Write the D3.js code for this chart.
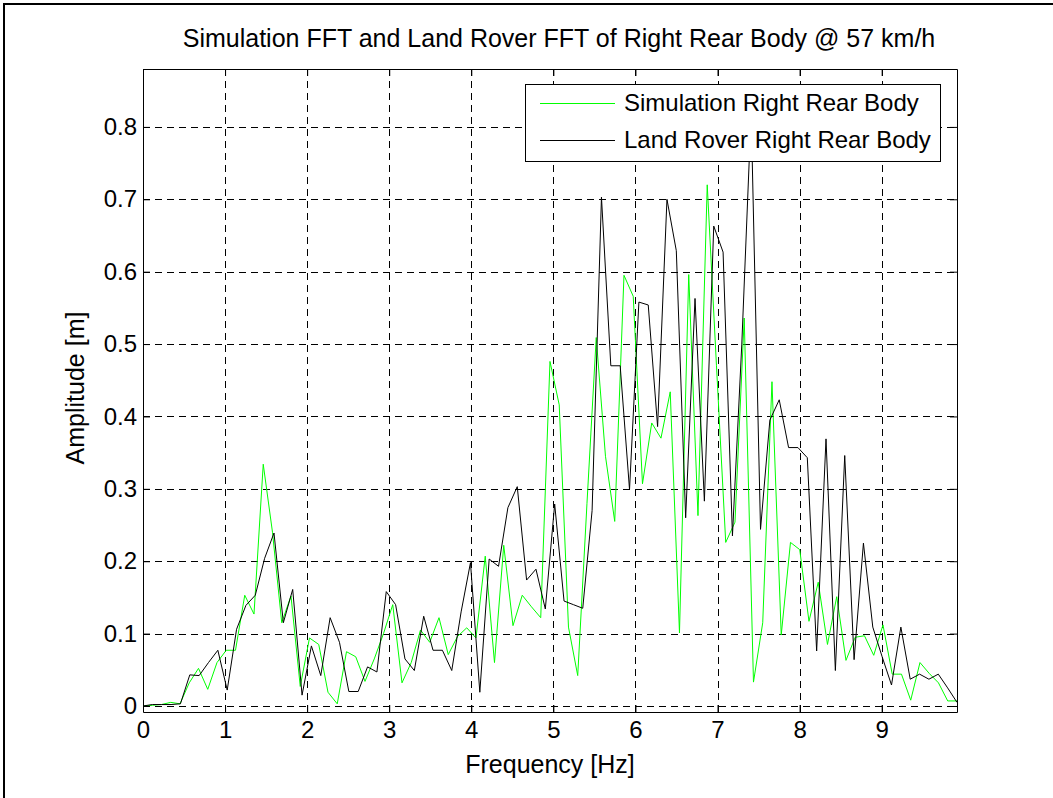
<!DOCTYPE html>
<html>
<head>
<meta charset="utf-8">
<script src="https://cdn.jsdelivr.net/npm/d3@7"></script>
<style>
    body { margin: 0; background: #fff; }
    text { font-family: "Liberation Sans", Arial, Helvetica, sans-serif; }
</style>
</head>
<body>
<div id="chart"></div>
<script>
// amplitude [m], one value per FFT bin
var simAmp = [0.000, 0.001, 0.002, 0.005, 0.003, 0.032, 0.052, 0.023, 0.060, 0.077,
    0.077, 0.153, 0.127, 0.334, 0.240, 0.115, 0.152, 0.027, 0.094, 0.085,
    0.019, 0.003, 0.075, 0.068, 0.034, 0.065, 0.100, 0.140, 0.032, 0.060,
    0.105, 0.088, 0.122, 0.071, 0.096, 0.108, 0.094, 0.207, 0.060, 0.222,
    0.111, 0.153, 0.137, 0.122, 0.476, 0.416, 0.109, 0.042, 0.280, 0.509,
    0.345, 0.255, 0.595, 0.566, 0.307, 0.391, 0.370, 0.434, 0.101, 0.596,
    0.263, 0.720, 0.470, 0.226, 0.254, 0.536, 0.033, 0.115, 0.448, 0.098,
    0.226, 0.216, 0.117, 0.171, 0.085, 0.151, 0.063, 0.095, 0.097, 0.070,
    0.112, 0.044, 0.044, 0.008, 0.060, 0.045, 0.032, 0.007, 0.007];
var roverAmp = [0.000, 0.002, 0.002, 0.002, 0.003, 0.043, 0.042, 0.060, 0.077, 0.022,
    0.106, 0.139, 0.153, 0.204, 0.239, 0.115, 0.161, 0.015, 0.083, 0.042,
    0.122, 0.088, 0.020, 0.020, 0.054, 0.047, 0.158, 0.140, 0.065, 0.049,
    0.124, 0.077, 0.077, 0.049, 0.130, 0.198, 0.019, 0.203, 0.193, 0.274,
    0.303, 0.174, 0.189, 0.134, 0.279, 0.145, 0.140, 0.135, 0.270, 0.703,
    0.470, 0.470, 0.299, 0.558, 0.554, 0.386, 0.700, 0.629, 0.260, 0.563,
    0.283, 0.663, 0.627, 0.235, 0.500, 0.820, 0.244, 0.395, 0.423, 0.357,
    0.357, 0.343, 0.076, 0.369, 0.049, 0.346, 0.064, 0.225, 0.109, 0.068,
    0.029, 0.109, 0.037, 0.044, 0.037, 0.044, 0.025, 0.005];
// frequency resolution of each record [Hz]
var dfSim = 0.1127;
var dfRover = 0.1140;

var xTicks = [0, 1, 2, 3, 4, 5, 6, 7, 8, 9];
var yTicks = [0, 0.1, 0.2, 0.3, 0.4, 0.5, 0.6, 0.7, 0.8];
var yTickLabels = ["0", "0.1", "0.2", "0.3", "0.4", "0.5", "0.6", "0.7", "0.8"];
var seriesNames = ["Simulation Right Rear Body", "Land Rover Right Rear Body"];
var seriesColors = ["#00ff00", "#000000"];

var W = 1053, H = 798;
var box = {left: 143, right: 957, top: 69, bottom: 712};

var svg = d3.select("#chart")
    .append("svg")
    .attr("width", W)
    .attr("height", H);

// figure frame (only top and left edges show)
svg.append("path")
    .attr("d", "M4,798V4H1053")
    .attr("fill", "none")
    .attr("stroke", "#000")
    .attr("stroke-width", 2);

var x = d3.scaleLinear()
    .domain([0, 87 * dfRover])
    .range([box.left, box.right]);

var y = d3.scaleLinear()
    .domain([-0.0083, 0.88])
    .range([box.bottom, box.top]);

// grid
var grid = svg.append("g")
    .attr("stroke", "#000")
    .attr("stroke-width", 1)
    .attr("stroke-dasharray", "7,5");
grid.selectAll(".vg")
    .data(xTicks)
    .enter().append("line")
    .attr("x1", function (d) { return Math.round(x(d)) + 0.5; })
    .attr("x2", function (d) { return Math.round(x(d)) + 0.5; })
    .attr("y1", box.bottom)
    .attr("y2", box.top);
grid.selectAll(".hg")
    .data(yTicks)
    .enter().append("line")
    .attr("y1", function (d) { return Math.round(y(d)) + 0.5; })
    .attr("y2", function (d) { return Math.round(y(d)) + 0.5; })
    .attr("x1", box.left)
    .attr("x2", box.right);

// data lines
var series = [
    simAmp.map(function (v, i) { return [i * dfSim, v]; }),
    roverAmp.map(function (v, i) { return [i * dfRover, v]; })
];

var line = d3.line()
    .x(function (d) { return x(d[0]); })
    .y(function (d) { return y(d[1]); });

svg.append("g")
    .selectAll("path")
    .data(series)
    .enter().append("path")
    .attr("d", line)
    .attr("fill", "none")
    .attr("stroke", function (d, i) { return seriesColors[i]; })
    .attr("stroke-width", 1);

// axes, ticks inward
var xAxis = svg.append("g")
    .attr("transform", "translate(0," + box.bottom + ")")
    .call(d3.axisBottom(x).tickValues(xTicks).tickSize(-7).tickSizeOuter(0).tickPadding(9));
xAxis.selectAll("text")
    .attr("font-size", 24)
    .attr("font-family", "Liberation Sans, Arial, sans-serif");

var yAxis = svg.append("g")
    .attr("transform", "translate(" + box.left + ",0)")
    .call(d3.axisLeft(y).tickValues(yTicks)
        .tickFormat(function (d, i) { return yTickLabels[i]; })
        .tickSize(-7).tickSizeOuter(0).tickPadding(6));
yAxis.selectAll("text")
    .attr("font-size", 24)
    .attr("font-family", "Liberation Sans, Arial, sans-serif");

svg.append("g")
    .attr("transform", "translate(0," + box.top + ")")
    .call(d3.axisTop(x).tickValues(xTicks).tickSize(-7).tickSizeOuter(0).tickFormat(""));
svg.append("g")
    .attr("transform", "translate(" + box.right + ",0)")
    .call(d3.axisRight(y).tickValues(yTicks).tickSize(-7).tickSizeOuter(0).tickFormat(""));

// labels
svg.append("text")
    .attr("x", 559)
    .attr("y", 47)
    .attr("text-anchor", "middle")
    .attr("font-size", 25)
    .text("Simulation FFT and Land Rover FFT of Right Rear Body @ 57 km/h");

svg.append("text")
    .attr("x", 550)
    .attr("y", 773)
    .attr("text-anchor", "middle")
    .attr("font-size", 25)
    .text("Frequency [Hz]");

svg.append("text")
    .attr("transform", "translate(75,388) rotate(-90)")
    .attr("dy", "0.35em")
    .attr("text-anchor", "middle")
    .attr("font-size", 25)
    .text("Amplitude [m]");

// legend
var legend = svg.append("g");
legend.append("rect")
    .attr("x", 525.5)
    .attr("y", 84.5)
    .attr("width", 415)
    .attr("height", 77)
    .attr("fill", "#fff")
    .attr("stroke", "#000");

var rows = legend.selectAll(".row")
    .data(seriesNames)
    .enter().append("g")
    .attr("transform", function (d, i) { return "translate(0," + (i === 0 ? 103.5 : 140.5) + ")"; });
rows.append("line")
    .attr("x1", 540)
    .attr("x2", 615)
    .attr("stroke", function (d, i) { return seriesColors[i]; });
rows.append("text")
    .attr("x", 624)
    .attr("y", 7)
    .attr("font-size", 24)
    .text(function (d) { return d; });
</script>
</body>
</html>
